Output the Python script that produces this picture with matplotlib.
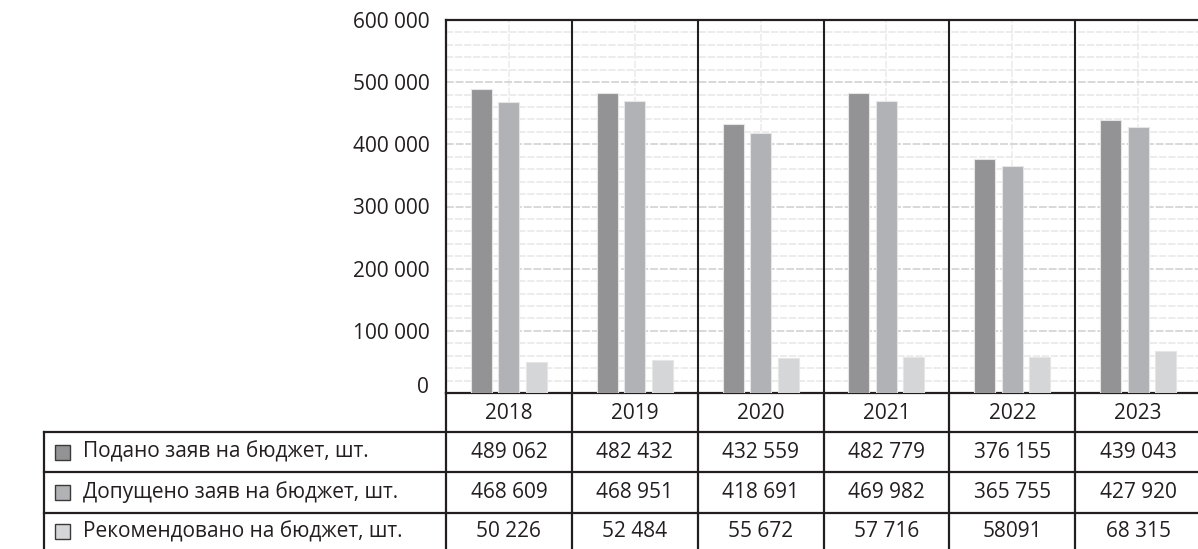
import numpy as np
import matplotlib
matplotlib.use("Agg")
import matplotlib.pyplot as plt
import matplotlib.transforms as mtransforms
from matplotlib.patches import Rectangle
from matplotlib.ticker import FuncFormatter

plt.rcParams['font.family'] = ['Open Sans', 'DejaVu Sans']

# Datos
years = ["2018", "2019", "2020", "2021", "2022", "2023"]
series_names = ["Подано заяв на бюджет, шт.",
                "Допущено заяв на бюджет, шт.",
                "Рекомендовано на бюджет, шт."]
podano = [489062, 482432, 432559, 482779, 376155, 439043]
dopuscheno = [468609, 468951, 418691, 469982, 365755, 427920]
rekomend = [50226, 52484, 55672, 57716, 58091, 68315]
table_labels = [
    ["489 062", "482 432", "432 559", "482 779", "376 155", "439 043"],
    ["468 609", "468 951", "418 691", "469 982", "365 755", "427 920"],
    ["50 226", "52 484", "55 672", "57 716", "58091", "68 315"],
]
y_ticks = [0, 100000, 200000, 300000, 400000, 500000, 600000]

colors = ["#939396", "#b1b2b5", "#d5d6d8"]
ink = "#231f20"

W, H = 1198, 549
fig = plt.figure(figsize=(W / 100, H / 100), dpi=100)

# ejes principales (pixeles de la figura)
x0, x1, y_top, y_bot = 446, 1201, 20, 393
ax = fig.add_axes([x0 / W, 1 - y_bot / H, (x1 - x0) / W, (y_bot - y_top) / H])

x = np.arange(len(years))
bw = 0.167
step = 0.218
for i, vals in enumerate([podano, dopuscheno, rekomend]):
    ax.bar(x + (i - 1) * step, vals, width=bw, color=colors[i],
           edgecolor="#e6e6e6", linewidth=0.8, zorder=3)

ax.set_xlim(-0.5, len(years) - 0.5)
ax.set_ylim(0, 600000)
ax.set_yticks(y_ticks)
ax.set_yticks(np.arange(0, 600001, 20000), minor=True)
ax.yaxis.set_major_formatter(FuncFormatter(lambda v, p: f"{int(v):,}".replace(",", " ")))
ax.tick_params(axis="y", which="both", length=0, pad=12, labelsize=15, labelcolor=ink)
ax.set_xticks([])
ax.grid(axis="y", which="major", color="#d8d8d8", linewidth=1.4, linestyle=(0, (4, 1)), zorder=0)
ax.grid(axis="y", which="minor", color="#ebebeb", linewidth=1.3, linestyle=(0, (4, 1)), zorder=0)
for xi in x:
    ax.axvline(xi, color="#eeeeee", linewidth=1.3, linestyle=(0, (4, 1)), zorder=0)
for xi in x[:-1] + 0.5:
    ax.axvline(xi, color=ink, linewidth=1.5, zorder=4)

for s in ["left", "top", "bottom"]:
    ax.spines[s].set_color(ink)
    ax.spines[s].set_linewidth(1.6)
ax.spines["right"].set_visible(False)

# el "0" queda un poco mas arriba en el original
fig.canvas.draw()
zero_lab = ax.get_yticklabels()[0]
zero_lab.set_transform(zero_lab.get_transform() +
                       mtransforms.ScaledTranslation(0, 8 / 100, fig.dpi_scale_trans))

# tabla debajo del grafico
tab = fig.add_axes([0, 0, 1, 1])
tab.set_xlim(0, W)
tab.set_ylim(H, 0)
tab.axis("off")
tab.patch.set_alpha(0)
bt = mtransforms.blended_transform_factory(ax.transData, tab.transData)

row_lines = [432, 472, 513]
row_bottom = 549
lw = 1.6

# lineas verticales de la tabla
for xi in list(x - 0.5):
    tab.plot([xi, xi], [y_bot, row_bottom], color=ink, lw=lw, transform=bt, clip_on=False)
tab.plot([44, 44], [row_lines[0], row_bottom], color=ink, lw=lw)
# lineas horizontales
for yl in row_lines:
    tab.plot([44, W + 5], [yl, yl], color=ink, lw=lw, clip_on=False)

# años
for xi, yr in zip(x, years):
    tab.text(xi, (y_bot + row_lines[0]) / 2 + 1, yr, transform=bt, ha="center", va="center",
             fontsize=15, color=ink)

# filas de valores
row_edges = row_lines + [row_bottom + 5]
for r in range(3):
    yc = (row_edges[r] + row_edges[r + 1]) / 2 - (2 if r == 2 else 0)
    tab.add_patch(Rectangle((55, yc - 7.5), 15, 15, facecolor=colors[r],
                            edgecolor="#3a3a3a", linewidth=1.0))
    tab.text(83, yc, series_names[r], ha="left", va="center", fontsize=15, color=ink)
    for xi, lab in zip(x, table_labels[r]):
        tab.text(xi, yc, lab, transform=bt, ha="center", va="center",
                 fontsize=15, color=ink)

fig.savefig("out.png", dpi=100)
